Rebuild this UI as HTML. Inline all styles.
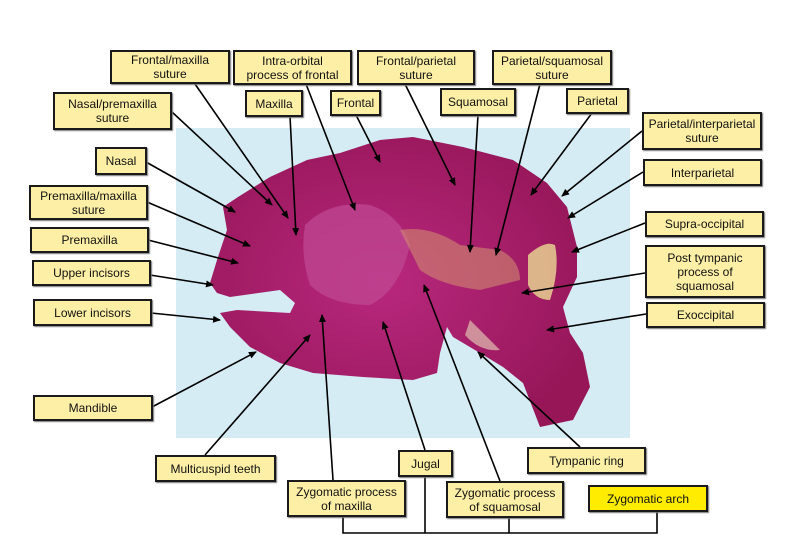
<!DOCTYPE html>
<html><head><meta charset="utf-8"><style>
html,body{margin:0;padding:0;background:#fff;}
body{width:800px;height:555px;position:relative;overflow:hidden;font-family:"Liberation Sans",sans-serif;}
.b{position:absolute;background:#fdf0a6;border:2px solid #1a1a1a;box-shadow:1px 1px 1px #777;box-sizing:border-box;font-size:12px;line-height:14px;text-align:center;color:#111;display:flex;align-items:center;justify-content:center;}
svg{position:absolute;left:0;top:0;}
</style></head><body>
<svg width="800" height="555">
<defs>
<marker id="a" markerWidth="8" markerHeight="8" refX="7" refY="4" orient="auto" markerUnits="userSpaceOnUse"><path d="M0,0.5 L8,4 L0,7.5 z" fill="#000"/></marker>
<radialGradient id="g" cx="0.45" cy="0.5" r="0.6"><stop offset="0" stop-color="#b8287e"/><stop offset="1" stop-color="#961658"/></radialGradient>
</defs>
<rect x="176" y="128" width="454" height="310" fill="#d5ecf4"/>
<path d="M223,207 L238,197 L270,177 L307,160 L340,153 L380,140 L413,137 L463,147 L513,160 L547,183 L567,207 L577,247 L577,277 L563,307 L570,333 L583,353 L590,387 L573,420 L540,427 L523,383 L503,367 L480,353 L453,337 L447,327 L440,353 L437,373 L413,380 L363,377 L313,373 L280,363 L250,347 L230,327 L220,313 L237,310 L290,313 L295,303 L280,290 L230,297 L217,293 L210,283 L217,260 L227,230 Z" fill="url(#g)"/>
<path d="M305,225 Q330,200 370,205 Q400,215 410,245 Q400,290 370,305 Q330,305 310,285 Q300,255 305,225 Z" fill="#c04a94" opacity="0.7"/>
<path d="M400,230 Q430,225 460,245 L500,250 Q520,260 520,280 L480,290 Q440,285 420,270 Z" fill="#d08a70" opacity="0.6"/>
<path d="M528,255 Q545,240 555,245 Q560,270 550,300 Q535,300 528,285 Z" fill="#e8d090" opacity="0.85"/>
<path d="M470,320 Q490,340 500,350 Q480,352 465,335 Z" fill="#e0c0b0" opacity="0.7"/>
<g stroke="#000" stroke-width="1.6" fill="none" marker-end="url(#a)">
<line x1="195" y1="84" x2="288" y2="218"/>
<line x1="306" y1="84" x2="355" y2="210"/>
<line x1="405" y1="84" x2="455" y2="185"/>
<line x1="540" y1="84" x2="496" y2="255"/>
<line x1="172" y1="112" x2="272" y2="205"/>
<line x1="290" y1="116" x2="296" y2="235"/>
<line x1="356" y1="115" x2="380" y2="162"/>
<line x1="478" y1="115" x2="470" y2="252"/>
<line x1="592" y1="113" x2="531" y2="195"/>
<line x1="642" y1="131" x2="562" y2="196"/>
<line x1="146" y1="162" x2="235" y2="212"/>
<line x1="643" y1="172" x2="568" y2="218"/>
<line x1="147" y1="202" x2="250" y2="246"/>
<line x1="645" y1="223" x2="572" y2="252"/>
<line x1="148" y1="240" x2="238" y2="263"/>
<line x1="645" y1="273" x2="522" y2="293"/>
<line x1="150" y1="275" x2="213" y2="285"/>
<line x1="151" y1="313" x2="220" y2="320"/>
<line x1="646" y1="314" x2="547" y2="330"/>
<line x1="152" y1="407" x2="256" y2="352"/>
<line x1="205" y1="455" x2="310" y2="335"/>
<line x1="333" y1="480" x2="322" y2="315"/>
<line x1="425" y1="450" x2="383" y2="322"/>
<line x1="500" y1="481" x2="424" y2="285"/>
<line x1="580" y1="447" x2="478" y2="352"/>
</g>
<g stroke="#000" stroke-width="1.6" fill="none">
<path d="M343,516 V533 H657 V511"/>
<line x1="425" y1="476" x2="425" y2="533"/>
<line x1="509" y1="517" x2="509" y2="533"/>
</g>
</svg>
<div class="b" style="left:110px;top:50px;width:120px;height:34px">Frontal/maxilla<br>suture</div>
<div class="b" style="left:233px;top:50px;width:119px;height:35px">Intra-orbital<br>process of frontal</div>
<div class="b" style="left:357px;top:50px;width:118px;height:35px">Frontal/parietal<br>suture</div>
<div class="b" style="left:492px;top:50px;width:120px;height:35px">Parietal/squamosal<br>suture</div>
<div class="b" style="left:53px;top:92px;width:119px;height:38px">Nasal/premaxilla<br>suture</div>
<div class="b" style="left:245px;top:90px;width:58px;height:27px">Maxilla</div>
<div class="b" style="left:330px;top:90px;width:51px;height:26px">Frontal</div>
<div class="b" style="left:440px;top:88px;width:76px;height:28px">Squamosal</div>
<div class="b" style="left:566px;top:88px;width:63px;height:26px">Parietal</div>
<div class="b" style="left:642px;top:112px;width:120px;height:38px">Parietal/interparietal<br>suture</div>
<div class="b" style="left:95px;top:147px;width:52px;height:28px">Nasal</div>
<div class="b" style="left:643px;top:159px;width:119px;height:27px">Interparietal</div>
<div class="b" style="left:29px;top:185px;width:119px;height:35px">Premaxilla/maxilla<br>suture</div>
<div class="b" style="left:645px;top:211px;width:119px;height:26px">Supra-occipital</div>
<div class="b" style="left:30px;top:227px;width:119px;height:26px">Premaxilla</div>
<div class="b" style="left:645px;top:245px;width:120px;height:53px">Post tympanic<br>process of<br>squamosal</div>
<div class="b" style="left:32px;top:260px;width:119px;height:26px">Upper incisors</div>
<div class="b" style="left:33px;top:299px;width:119px;height:27px">Lower incisors</div>
<div class="b" style="left:646px;top:302px;width:119px;height:26px">Exoccipital</div>
<div class="b" style="left:33px;top:395px;width:120px;height:26px">Mandible</div>
<div class="b" style="left:155px;top:455px;width:121px;height:27px">Multicuspid teeth</div>
<div class="b" style="left:398px;top:450px;width:55px;height:27px">Jugal</div>
<div class="b" style="left:527px;top:447px;width:119px;height:27px">Tympanic ring</div>
<div class="b" style="left:287px;top:480px;width:119px;height:37px">Zygomatic process<br>of maxilla</div>
<div class="b" style="left:446px;top:481px;width:118px;height:37px">Zygomatic process<br>of squamosal</div>
<div class="b" style="left:588px;top:485px;width:120px;height:27px;background:#ffec00">Zygomatic arch</div>
</body></html>
